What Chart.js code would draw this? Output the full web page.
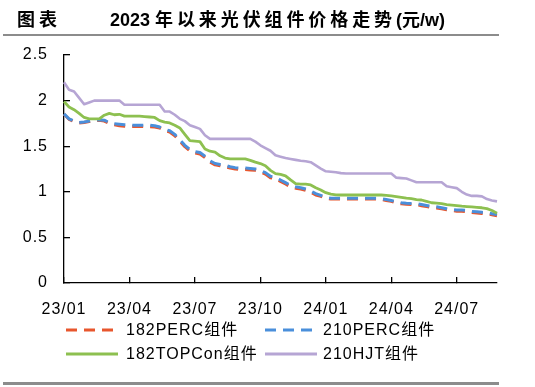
<!DOCTYPE html>
<html><head><meta charset="utf-8">
<script src="https://cdn.jsdelivr.net/npm/chart.js@4.4.1/dist/chart.umd.min.js"></script>
<style>
html,body{margin:0;padding:0;background:#fff;}
#wrap{position:relative;width:535px;height:387px;overflow:hidden;background:#fff;}
#chart{position:absolute;left:0;top:0;}
.t{position:absolute;top:8px;font-family:"Liberation Sans","Noto Sans CJK SC",sans-serif;font-weight:bold;font-size:18px;line-height:24px;color:#000;white-space:nowrap;}
.cjk{letter-spacing:3.9px;}
.rule{position:absolute;left:3px;width:496px;background:#8c8c8c;}
.lg{position:absolute;font-family:"Liberation Sans","Noto Sans CJK SC",sans-serif;font-size:16px;line-height:20px;color:#000;white-space:nowrap;letter-spacing:1px;}
.lg svg{position:absolute;left:0;top:8px;}
</style></head>
<body><div id="wrap">
<canvas id="chart" width="535" height="387"></canvas>
<div class="t" style="left:17px"><span class="cjk">图表</span></div>
<div class="t" style="left:110px">2023 <span class="cjk">年以来光伏组件价格走势</span>(<span>元</span>/w)</div>
<div class="rule" style="top:34px;height:2px"></div>
<div class="rule" style="top:382px;height:3px"></div>
<div id="legend"></div>
</div>
<script>
// weekly categories starting 2023-01-02
const START = '2023-01-02';
const N_WEEKS = 87;
const categories = [];
(function(){
  const d = new Date(START + 'T00:00:00Z');
  for (let i = 0; i < N_WEEKS; i++) {
    const y = String(d.getUTCFullYear()).slice(2);
    const m = String(d.getUTCMonth() + 1).padStart(2, '0');
    const dd = String(d.getUTCDate()).padStart(2, '0');
    categories.push(y + '/' + m + '/' + dd);
    d.setUTCDate(d.getUTCDate() + 7);
  }
})();

const tickLabels = ['23/01','23/04','23/07','23/10','24/01','24/04','24/07'];
const yTicks = [0, 0.5, 1, 1.5, 2, 2.5];

const seriesNames = ['182PERC组件','210PERC组件','182TOPCon组件','210HJT组件'];

const perc182 = [1.85,1.795,1.77,1.755,1.76,1.77,1.78,1.785,1.775,1.75,1.735,1.725,1.72,
 1.715,1.715,1.715,1.715,1.715,1.71,1.70,1.67,1.655,1.615,1.555,1.495,1.45,1.425,1.415,1.375,
 1.325,1.295,1.285,1.275,1.26,1.25,1.245,1.245,1.24,1.235,1.22,1.195,1.155,1.145,1.115,1.085,
 1.055,1.04,1.03,1.015,0.995,0.965,0.95,0.93,0.92,0.92,0.92,0.92,0.92,0.92,0.92,0.92,0.92,0.92,
 0.915,0.905,0.895,0.878,0.868,0.863,0.86,0.858,0.848,0.838,0.828,0.823,0.813,0.803,0.793,0.788,
 0.788,0.783,0.773,0.768,0.763,0.758,0.748,0.738];

const perc210 = [1.855,1.80,1.775,1.76,1.765,1.775,1.785,1.79,1.785,1.76,1.745,1.74,1.735,
 1.73,1.73,1.73,1.73,1.73,1.725,1.71,1.685,1.67,1.63,1.57,1.51,1.465,1.44,1.43,1.39,
 1.34,1.31,1.30,1.29,1.275,1.265,1.26,1.26,1.255,1.25,1.235,1.21,1.17,1.16,1.13,1.10,
 1.07,1.055,1.045,1.03,1.01,0.98,0.96,0.94,0.93,0.93,0.93,0.93,0.93,0.93,0.93,0.93,0.93,0.93,
 0.925,0.915,0.905,0.89,0.88,0.875,0.872,0.87,0.86,0.85,0.84,0.835,0.825,0.815,0.805,0.80,
 0.80,0.795,0.785,0.78,0.775,0.77,0.76,0.75];

const topcon182 = [1.99,1.93,1.90,1.86,1.815,1.80,1.80,1.80,1.84,1.86,1.845,1.85,1.83,
 1.83,1.83,1.83,1.825,1.82,1.815,1.78,1.765,1.755,1.73,1.70,1.63,1.56,1.555,1.55,1.47,
 1.445,1.435,1.395,1.37,1.36,1.36,1.36,1.36,1.345,1.325,1.31,1.285,1.235,1.20,1.19,1.175,
 1.13,1.09,1.085,1.085,1.075,1.045,1.02,0.99,0.975,0.967,0.965,0.965,0.965,0.965,0.965,0.965,0.965,0.965,
 0.965,0.96,0.955,0.948,0.94,0.93,0.925,0.915,0.91,0.895,0.88,0.875,0.87,0.86,0.855,0.848,
 0.842,0.838,0.834,0.83,0.825,0.815,0.795,0.765];

const hjt210 = [2.20,2.12,2.10,2.03,1.96,1.98,2.00,2.00,2.00,2.00,2.00,2.00,1.955,
 1.955,1.955,1.955,1.955,1.955,1.955,1.955,1.88,1.88,1.845,1.80,1.775,1.73,1.71,1.69,1.62,
 1.58,1.58,1.58,1.58,1.58,1.58,1.58,1.58,1.58,1.55,1.51,1.48,1.45,1.40,1.385,1.37,
 1.36,1.35,1.34,1.335,1.325,1.29,1.255,1.225,1.22,1.215,1.205,1.20,1.20,1.20,1.20,1.20,1.20,1.20,
 1.20,1.20,1.20,1.155,1.15,1.145,1.125,1.105,1.105,1.105,1.105,1.105,1.105,1.06,1.05,1.04,
 1.00,0.97,0.955,0.955,0.95,0.92,0.905,0.895];

const colors = ['#E8562D','#4A8FDB','#8DC050','#B6A5D4'];
const dashes = [[11,7],[11,7],[],[]];
const widths = [3,3,2.8,2.6];
const orders = [2,1,0,3];
const seriesValues = [perc182, perc210, topcon182, hjt210];

const tickIdx = tickLabels.map(l => categories.findIndex(c => c.startsWith(l)));

const FONT = {family: '"Liberation Sans", Arial, "Noto Sans CJK SC", sans-serif', size: 16};

const spacing = {
  id: 'spacing',
  beforeUpdate(c){ c.ctx.letterSpacing = '1px'; },
  beforeDraw(c){ c.ctx.letterSpacing = '1px'; }
};

const chart = new Chart(document.getElementById('chart'), {
  type: 'line',
  data: {
    labels: categories,
    datasets: seriesNames.map((name, i) => ({
      label: name,
      data: seriesValues[i],
      borderColor: colors[i],
      backgroundColor: colors[i],
      borderWidth: widths[i],
      borderDash: dashes[i],
      pointRadius: 0,
      tension: 0,
      fill: false,
      order: orders[i],
      borderCapStyle: 'butt',
      borderJoinStyle: 'round'
    }))
  },
  options: {
    responsive: false,
    animation: false,
    events: [],
    layout: {padding: {left: 0, right: 38, top: 55, bottom: 54}},
    plugins: {legend: {display: false}, tooltip: {enabled: false}, title: {display: false}},
    scales: {
      x: {
        type: 'category',
        offset: false,
        afterBuildTicks(s){ s.ticks = s.ticks.filter(t => tickIdx.includes(t.value)); },
        afterFit(s){ s.height = 50; },
        border: {display: true, color: '#000', width: 1.3},
        grid: {display: true, drawOnChartArea: false, drawTicks: true, tickLength: -6, color: '#000', lineWidth: 1.3},
        ticks: {
          autoSkip: false, maxRotation: 0, minRotation: 0, padding: 23,
          color: '#000', font: FONT,
          callback(v){ return this.getLabelForValue(v).slice(0,5); }
        }
      },
      y: {
        min: 0, max: 2.5,
        afterBuildTicks(s){ s.ticks = yTicks.map(v => ({value: v})); },
        afterFit(s){ s.width = 64; },
        border: {display: true, color: '#000', width: 1.3},
        grid: {display: true, drawOnChartArea: false, drawTicks: true, tickLength: -6, color: '#000', lineWidth: 1.3},
        ticks: {padding: 22, color: '#000', font: FONT, callback(v){ return String(v); }}
      }
    }
  },
  plugins: [spacing]
});

// legend (2 columns grid, as in the reference)
const legPos = [[66,320,60],[265,320,58],[66,344,60],[265,344,58]];
const lg = document.getElementById('legend');
chart.data.datasets.forEach((ds, i) => {
  const div = document.createElement('div');
  div.className = 'lg';
  div.style.left = legPos[i][0] + 'px';
  div.style.top = legPos[i][1] + 'px';
  const dash = ds.borderDash && ds.borderDash.length ? `stroke-dasharray="${ds.borderDash.join(' ')}"` : '';
  div.innerHTML = `<svg width="52" height="4"><line x1="0" y1="2" x2="52" y2="2" stroke="${ds.borderColor}" stroke-width="3" ${dash}/></svg><span style="margin-left:${legPos[i][2]}px">${ds.label}</span>`;
  lg.appendChild(div);
});
</script>
</body></html>
